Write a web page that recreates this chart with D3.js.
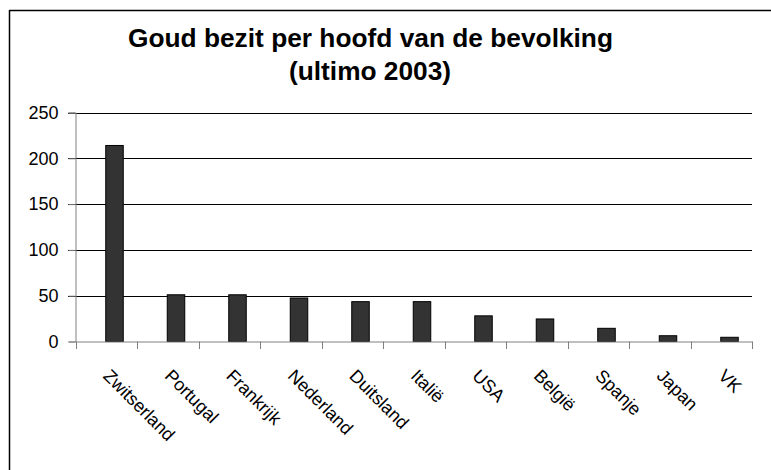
<!DOCTYPE html>
<html>
<head>
<meta charset="utf-8">
<script src="https://cdn.jsdelivr.net/npm/d3@7"></script>
<style>
  body { margin: 0; background: #fff; }
  text { font-family: "Liberation Sans", Arial, sans-serif; fill: #000; }
</style>
</head>
<body>
<svg id="chart" width="771" height="470"></svg>
<script>
// data
var landen = ["Zwitserland", "Portugal", "Frankrijk", "Nederland", "Duitsland", "Italië",
              "USA", "België", "Spanje", "Japan", "VK"];
var goudPerHoofd = [214, 51, 51, 47.5, 43.5, 43.5, 28, 24.6, 14.4, 6.3, 4.6];
var yTicks = [0, 50, 100, 150, 200, 250];
var titel = ["Goud bezit per hoofd van de bevolking", "(ultimo 2003)"];

var svg = d3.select("#chart");

// frame (only top + left visible)
svg.append("line").attr("x1", 9.5).attr("x2", 771).attr("y1", 10.5).attr("y2", 10.5)
  .attr("stroke", "#000").attr("stroke-width", 1.5);
svg.append("line").attr("x1", 9.5).attr("x2", 9.5).attr("y1", 10).attr("y2", 470)
  .attr("stroke", "#000").attr("stroke-width", 1.5);

// TITLE
svg.append("text").text(titel[0])
  .attr("x", 370.5).attr("y", 47)
  .attr("text-anchor", "middle")
  .attr("textLength", 485).attr("lengthAdjust", "spacingAndGlyphs")
  .style("font-weight", "bold").style("font-size", "25px");
svg.append("text").text(titel[1])
  .attr("x", 370).attr("y", 80)
  .attr("text-anchor", "middle")
  .attr("textLength", 162).attr("lengthAdjust", "spacingAndGlyphs")
  .style("font-weight", "bold").style("font-size", "25px");

// scales
var x = d3.scaleBand().domain(landen).range([75.5, 752]).padding(0);
var y = d3.scaleLinear().domain([0, 250]).range([341.5, 112.5]);

// gridlines
svg.append("g").selectAll("line")
  .data(yTicks.filter(function (d) { return d > 0; }))
  .enter().append("line")
    .attr("x1", 68).attr("x2", 752)
    .attr("y1", function (d) { return Math.round(y(d)) + 0.5; })
    .attr("y2", function (d) { return Math.round(y(d)) + 0.5; })
    .attr("stroke", "#000").attr("stroke-width", 1);

// y axis
var yAxis = svg.append("g").attr("transform", "translate(75.5,0)")
  .call(d3.axisLeft(y).tickValues(yTicks).tickSize(7).tickPadding(10));
yAxis.select(".domain").attr("stroke", "#808080");
yAxis.selectAll(".tick line").attr("stroke", "#808080");
yAxis.selectAll(".tick text")
  .style("font-size", "18px").style("font-family", '"Liberation Sans", Arial, sans-serif')
  .attr("fill", "#000");

// bars
svg.append("g").selectAll("rect")
  .data(landen)
  .enter().append("rect")
    .attr("x", function (d) { return x(d) + x.bandwidth() / 2 - 0.5; })
    .attr("width", 17.5)
    .attr("y", function (d, i) { return y(goudPerHoofd[i]); })
    .attr("height", function (d, i) { return y(0) - y(goudPerHoofd[i]); })
    .attr("fill", "#333333").attr("stroke", "#000").attr("stroke-width", 1);

// x axis
var xAxis = svg.append("g").attr("transform", "translate(0,341.5)")
  .call(d3.axisBottom(x).tickSize(0).tickFormat(""));
xAxis.select(".domain").attr("stroke", "#808080");
xAxis.selectAll(".tick").remove();

// category separators
var grenzen = landen.map(function (d) { return x(d); }).concat([x.range()[1]]);
svg.append("g").selectAll("line")
  .data(grenzen)
  .enter().append("line")
    .attr("x1", function (d) { return Math.round(d) + 0.5; })
    .attr("x2", function (d) { return Math.round(d) + 0.5; })
    .attr("y1", 341.5).attr("y2", 349)
    .attr("stroke", "#808080");

// rotated labels
svg.append("g").selectAll("text")
  .data(landen)
  .enter().append("text")
    .text(function (d) { return d; })
    .attr("transform", function (d) {
      var cx = x(d) + x.bandwidth() / 2;
      return "translate(" + (cx - 4) + ",377) rotate(45)";
    })
    .style("font-size", "18px");
</script>
</body>
</html>
